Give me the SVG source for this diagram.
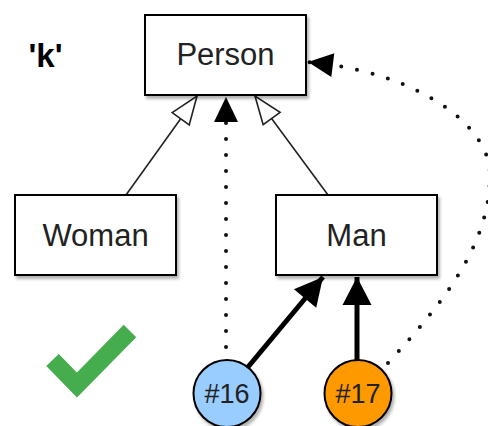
<svg xmlns="http://www.w3.org/2000/svg" width="488" height="426" viewBox="0 0 488 426">
  <style>
    .box { fill: #ffffff; stroke: #000000; stroke-width: 2; filter: url(#shadow); }
    .label { font-family: "Liberation Sans", Arial, sans-serif; font-size: 31px; fill: #222222; text-anchor: middle; }
    .num { font-family: "Liberation Sans", Arial, sans-serif; font-size: 27px; fill: #222222; text-anchor: middle; }
    .gen { fill: none; stroke: #222222; stroke-width: 1.6; marker-end: url(#hollow); }
    .dep { fill: none; stroke: #111111; stroke-width: 4; stroke-linecap: round; stroke-dasharray: 0 16; marker-end: url(#block); }
    .assoc { fill: none; stroke: #000000; stroke-width: 5; marker-end: url(#thick); }
  </style>
  <defs>
    <filter id="shadow" x="-20%" y="-20%" width="150%" height="150%">
      <feDropShadow dx="2" dy="3" stdDeviation="1.5" flood-color="#000000" flood-opacity="0.3"/>
    </filter>
    <marker id="hollow" markerUnits="userSpaceOnUse" markerWidth="32" markerHeight="26" refX="29" refY="11.5" orient="auto" overflow="visible">
      <path d="M1,1 L29,11.5 L1,22 Z" fill="#ffffff" stroke="#222222" stroke-width="1.6"/>
    </marker>
    <marker id="block" markerUnits="userSpaceOnUse" markerWidth="26" markerHeight="26" refX="25" refY="12" orient="auto" overflow="visible">
      <path d="M0,0 L25,12 L0,24 Z" fill="#000000"/>
    </marker>
    <marker id="thick" markerUnits="userSpaceOnUse" markerWidth="30" markerHeight="30" refX="28" refY="14.5" orient="auto" overflow="visible">
      <path d="M0,0 L28,14.5 L0,29 Z" fill="#000000"/>
    </marker>
  </defs>

  <!-- connectors -->
  <g id="edges">
    <line class="gen" x1="126" y1="195" x2="197" y2="96"/>
    <line class="gen" x1="328" y1="195" x2="255" y2="96"/>
    <line class="dep" x1="226" y1="347" x2="226" y2="97"/>
    <path class="dep" d="M388,363 C443,303 490,245 490,175 C490,125 420,78 332,65 L308,62"/>
    <line class="assoc" x1="248" y1="367" x2="323" y2="277"/>
    <line class="assoc" x1="357" y1="360" x2="357" y2="277"/>
  </g>

  <!-- class boxes -->
  <g id="person">
    <rect class="box" x="145" y="15" width="161" height="80"/>
    <text class="label" x="225.5" y="65">Person</text>
  </g>
  <g id="woman">
    <rect class="box" x="15" y="195" width="161" height="80"/>
    <text class="label" x="95.5" y="246">Woman</text>
  </g>
  <g id="man">
    <rect class="box" x="276" y="195" width="161" height="80"/>
    <text class="label" x="356.5" y="246">Man</text>
  </g>

  <!-- instances -->
  <g id="obj16">
    <circle cx="227" cy="393.5" r="33.5" fill="#99CCFF" stroke="#000000" stroke-width="2" filter="url(#shadow)"/>
    <text class="num" x="227" y="402.5">#16</text>
  </g>
  <g id="obj17">
    <circle cx="358" cy="393.5" r="33.5" fill="#FF9900" stroke="#000000" stroke-width="2" filter="url(#shadow)"/>
    <text class="num" x="358" y="402.5">#17</text>
  </g>

  <!-- key label -->
  <g id="key">
    <text x="45.5" y="67" font-family="'Liberation Sans', Arial, sans-serif" font-size="33" font-weight="bold" fill="#000000" text-anchor="middle">'k'</text>
  </g>

  <!-- check mark -->
  <g id="check">
    <polyline points="52.5,360 77,385 130,331" fill="none" stroke="#45AD4E" stroke-width="17.5" stroke-linejoin="miter"/>
  </g>
</svg>
